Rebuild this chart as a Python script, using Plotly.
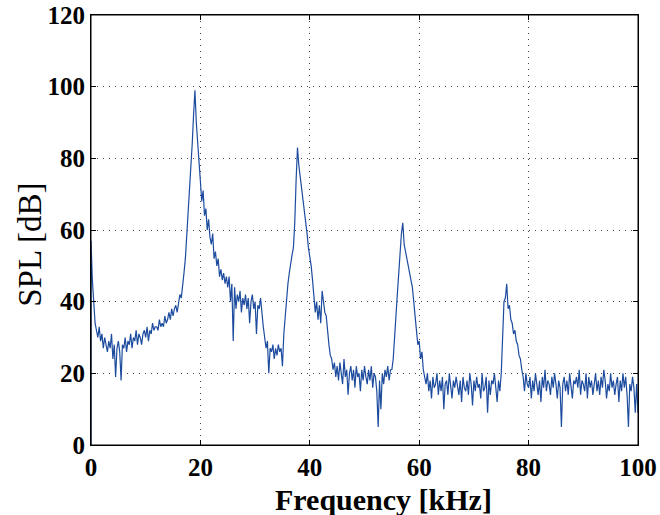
import numpy as np
import plotly.graph_objects as go

# DC sample (drawn as the vertical edge at 0 Hz)
dc_freq = [0.0]
dc_spl = [0.0]

# Spectrum sampled every 0.25 kHz from 0 to 100 kHz
freq_step_khz = 0.25
spl_db = [
    57, 46, 38, 34,   # 0
    32, 30, 33, 29,   # 1
    31, 27, 30, 28,   # 2
    26, 29, 27, 31,   # 3
    24, 28, 19, 27,   # 4
    29, 26, 18, 28,   # 5
    27, 30, 26, 29,   # 6
    28, 31, 27, 30,   # 7
    29, 32, 28, 31,   # 8
    30, 28, 31, 32,   # 9
    30, 33, 29, 32,   # 10
    31, 34, 32, 33,   # 11
    33, 32, 35, 33,   # 12
    34, 33, 36, 34,   # 13
    35, 37, 35, 38,   # 14
    36, 38, 39, 37,   # 15
    40, 42, 41, 44,   # 16
    48, 52, 58, 65,   # 17
    70, 76, 84, 92,   # 18
    99, 90, 84, 78,   # 19
    74, 68, 71, 64,   # 20
    66, 60, 63, 58,   # 21
    56, 59, 52, 54,   # 22
    50, 52, 47, 49,   # 23
    46, 48, 45, 47,   # 24
    44, 47, 40, 45,   # 25
    29, 44, 38, 42,   # 26
    40, 43, 37, 41,   # 27
    39, 42, 38, 41,   # 28
    34, 40, 42, 38,   # 29
    40, 31, 39, 38,   # 30
    41, 36, 33, 30,   # 31
    27, 29, 20, 27,   # 32
    26, 28, 24, 27,   # 33
    25, 28, 26, 27,   # 34
    22, 31, 36, 42,   # 35
    45, 48, 51, 53,   # 36
    55, 62, 74, 83,   # 37
    78, 75, 71, 68,   # 38
    65, 62, 59, 55,   # 39
    53, 50, 46, 42,   # 40
    37, 40, 35, 39,   # 41
    34, 43, 40, 37,   # 42
    36, 31, 28, 25,   # 43
    24, 21, 23, 19,   # 44
    22, 18, 23, 20,   # 45
    17, 24, 19, 21,   # 46
    14, 20, 22, 18,   # 47
    21, 16, 22, 19,   # 48
    20, 15, 21, 18,   # 49
    22, 19, 17, 21,   # 50
    18, 22, 16, 20,   # 51
    19, 15, 5, 18,    # 52
    10, 20, 17, 21,   # 53
    19, 22, 18, 21,   # 54
    21, 24, 29, 36,   # 55
    42, 48, 55, 59,   # 56
    62, 56, 54, 52,   # 57
    50, 48, 46, 44,   # 58
    40, 35, 32, 28,   # 59
    29, 24, 26, 21,   # 60
    19, 17, 20, 15,   # 61
    18, 13, 19, 16,   # 62
    17, 20, 14, 18,   # 63
    15, 19, 10, 17,   # 64
    18, 14, 20, 16,   # 65
    13, 18, 16, 19,   # 66
    17, 14, 18, 12,   # 67
    19, 16, 15, 18,   # 68
    14, 20, 17, 11,   # 69
    18, 15, 19, 16,   # 70
    17, 13, 20, 15,   # 71
    16, 19, 9, 18,    # 72
    14, 18, 17, 20,   # 73
    16, 12, 18, 15,   # 74
    20, 30, 40, 41,   # 75
    45, 38, 39, 35,   # 76
    34, 31, 32, 29,   # 77
    28, 25, 24, 21,   # 78
    19, 15, 20, 17,   # 79
    16, 19, 13, 18,   # 80
    15, 20, 17, 14,   # 81
    18, 12, 19, 16,   # 82
    21, 15, 18, 17,   # 83
    14, 19, 16, 20,   # 84
    17, 13, 18, 16,   # 85
    5, 17, 19, 15,    # 86
    18, 14, 20, 16,   # 87
    13, 18, 17, 19,   # 88
    16, 21, 14, 18,   # 89
    17, 15, 20, 13,   # 90
    19, 16, 18, 14,   # 91
    17, 20, 15, 18,   # 92
    14, 19, 16, 21,   # 93
    18, 13, 17, 15,   # 94
    20, 16, 18, 14,   # 95
    17, 19, 12, 18,   # 96
    15, 20, 16, 19,   # 97
    14, 5, 17, 15,    # 98
    19, 16, 9, 17,    # 99
    9,                # 100
]
spl_freq = list(np.arange(len(spl_db)) * freq_step_khz)

x_ticks = [0, 20, 40, 60, 80, 100]
y_ticks = [0, 20, 40, 60, 80, 100, 120]
x_title = "Frequency [kHz]"
y_title = "SPL [dB]"

freq = dc_freq + spl_freq
spl = dc_spl + spl_db

fig = go.Figure()
fig.add_trace(go.Scatter(
    x=freq, y=spl, mode="lines",
    line=dict(color="#1d4c9f", width=1.2),
    showlegend=False,
    cliponaxis=False,
))

axis_common = dict(
    showline=True, mirror="ticks", linecolor="black", linewidth=1,
    ticks="inside", ticklen=5, tickcolor="black",
    showgrid=True, gridcolor="#444444", griddash="1px,5px", gridwidth=1,
    zeroline=False, automargin=False, ticklabeloverflow="allow",
    tickfont=dict(family="Liberation Serif", size=25, color="black", weight="bold"),
)

fig.update_xaxes(
    range=[0, 100], tickvals=x_ticks, ticktext=[str(v) for v in x_ticks],
    **axis_common,
)
fig.update_yaxes(
    range=[0, 120], tickvals=y_ticks, ticktext=[str(v) for v in y_ticks],
    **axis_common,
)

fig.update_layout(
    width=660, height=515,
    margin=dict(l=91, r=22, t=15, b=70),
    paper_bgcolor="white", plot_bgcolor="white",
    font=dict(family="Liberation Serif", color="black"),
    shapes=[dict(type="rect", xref="paper", yref="paper", x0=0, x1=1, y0=0, y1=1,
                 line=dict(color="black", width=1), layer="above")],
    annotations=[
        dict(text=x_title, xref="paper", yref="paper", x=0.534, y=-0.1256,
             xanchor="center", yanchor="middle", showarrow=False,
             font=dict(family="Liberation Serif", size=30, color="black", weight="bold")),
        dict(text=y_title, xref="paper", yref="paper", x=-0.112, y=0.465,
             xanchor="center", yanchor="middle", showarrow=False, textangle=-90,
             font=dict(family="Liberation Serif", size=33, color="black")),
    ],
)

fig.write_html(
    "out.html",
    config={"displayModeBar": False},
    post_script="document.body.style.margin='0px';document.body.style.overflow='hidden';",
)
